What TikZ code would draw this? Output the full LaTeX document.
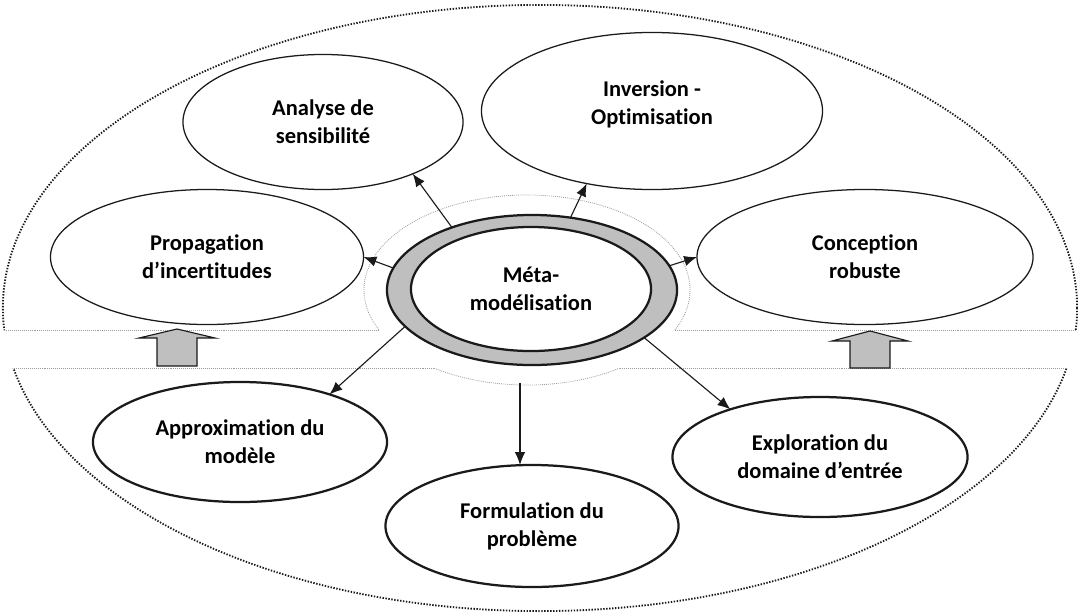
\documentclass[tikz,border=0pt]{standalone}
\usepackage{fontspec}
\setmainfont{Carlito}[Ligatures=NoCommon]
\usetikzlibrary{shapes.geometric, arrows.meta, positioning}
\definecolor{RingGray}{HTML}{BFBFBF}
\definecolor{GuideGray}{HTML}{9C9C9C}
\definecolor{InkBlack}{HTML}{1A1A1A}

\begin{document}
\begin{tikzpicture}[x=0.025cm, y=-0.025cm,
        topic/.style={draw=InkBlack, ellipse, line width=0.9pt, fill=white,
                      inner sep=0pt, outer sep=0pt, align=center,
                      font=\bfseries\fontsize{16}{20}\selectfont},
        method/.style={topic, line width=1.6pt},
        link/.style={-{Latex[length=3.2mm, width=2.6mm]}, line width=0.8pt, InkBlack},
        frame/.style={dash pattern=on 1pt off 1.1pt, line width=1.3pt, InkBlack},
        guide/.style={dash pattern=on 0.6pt off 0.8pt, line width=0.6pt, GuideGray},
        lift/.style={draw=InkBlack, fill=RingGray, line width=0.8pt}]

        \useasboundingbox (0,0) rectangle (1078,614);

        % Dotted frames, cut by the band
        \begin{scope}
          \clip (-20,-20) rectangle (1100,330) (-20,368) rectangle (1100,640);
          \draw[frame] (540,308) ellipse [x radius=13.425cm, y radius=7.575cm];
          \draw[guide] (527,290) ellipse [x radius=4.075cm, y radius=2.375cm];
        \end{scope}
        \draw[guide] (4,330) -- (379,330) (675,330) -- (1076,330);
        \draw[guide] (14,368) -- (434,368) (620,368) -- (1066,368);

        % Central ring
        \node[ellipse, draw=InkBlack, line width=1.6pt, fill=RingGray, outer sep=0pt,
              minimum width=7.25cm, minimum height=3.75cm] (ring) at (532,290) {};
        \node[method, minimum width=6cm, minimum height=3.1cm] (meta) at (531,289) {Méta-\\modélisation};
        \coordinate (mfoot) at (520,383);

        % Upper topics
        \node[topic, minimum width=7cm, minimum height=3.375cm] (sens) at (323,122) {Analyse de\\sensibilité};
        \node[topic, minimum width=8.525cm, minimum height=3.925cm] (inv) at (652,111) {Inversion -\\Optimisation\\[-8.6pt]\mbox{}};
        \node[topic, minimum width=7.825cm, minimum height=3.375cm] (prop) at (207,257) {Propagation\\d’incertitudes};
        \node[topic, minimum width=8.4cm, minimum height=3.375cm] (conc) at (865,257) {Conception\\robuste};

        % Lower methods
        \node[method, minimum width=7.35cm, minimum height=3cm] (approx) at (240,442) {Approximation du\\modèle};
        \node[method, minimum width=7.325cm, minimum height=3.05cm] (form) at (532,526) {Formulation du\\problème};
        \node[method, minimum width=7.375cm, minimum height=3cm] (explo) at (820,457) {Exploration du\\domaine d’entrée};

        % Arrows
        \draw[link] (ring.142) -- (sens.-30);
        \draw[link] (ring.62)  -- (inv.-132);
        \draw[link] (ring.171) -- (prop.east);
        \draw[link] (ring.10)  -- (conc.west);
        \draw[link] (ring.196) -- (approx.28);
        \draw[link] (mfoot)    -- (mfoot |- form.north);
        \draw[link] (ring.-23) -- (explo.152);

        % Block arrows in the band
        \draw[lift] (157,366) -- (157,338) -- (139,338) -- (177,329) -- (215,338)
                    -- (197,338) -- (197,366) -- cycle;
        \draw[lift] (850,368) -- (850,341) -- (832,341) -- (870,331) -- (908,341)
                    -- (890,341) -- (890,368) -- cycle;
      \end{tikzpicture}
\end{document}
